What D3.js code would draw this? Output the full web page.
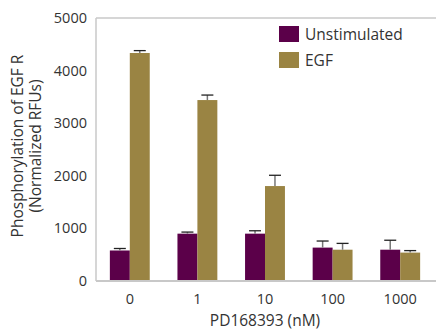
<!DOCTYPE html>
<html>
<head>
<meta charset="utf-8">
<script src="https://cdn.jsdelivr.net/npm/d3@7"></script>
<style>
  body { margin: 0; background: #fff; }
  text { font-family: "Open Sans", "Noto Sans", sans-serif; fill: #333; }
</style>
</head>
<body>
<div id="chart"></div>
<script>
const categories = ['0', '1', '10', '100', '1000'];
const seriesNames = ['Unstimulated', 'EGF'];
const unstimulated = [580, 900, 900, 635, 595];
const unstimulatedErr = [38, 30, 55, 125, 180];
const egf = [4335, 3440, 1805, 595, 540];
const egfErr = [45, 95, 205, 120, 38];
const yTicks = [0, 1000, 2000, 3000, 4000, 5000];
const colors = ['#5b0049', '#9a8443'];

const width = 436, height = 331;
const margin = { top: 18, right: 2, bottom: 50, left: 96 };
const innerW = width - margin.left - margin.right;
const innerH = height - margin.top - margin.bottom;

const svg = d3.select('#chart').append('svg')
    .attr('width', width)
    .attr('height', height);

const g = svg.append('g').attr('transform', `translate(${margin.left},${margin.top})`);

const x = d3.scaleBand().domain(categories).range([0, innerW]).paddingInner(0.41).paddingOuter(0.205);
const xSub = d3.scaleBand().domain(seriesNames).range([0, x.bandwidth()]);
const y = d3.scaleLinear().domain([0, 5000]).range([innerH, 0]);

// frame: top line, left axis, baseline
g.append('line').attr('x1', 0).attr('x2', width - margin.left).attr('y1', 0).attr('y2', 0)
    .attr('stroke', '#c8c8c8').attr('stroke-width', 1.5);
g.append('line').attr('x1', 0).attr('x2', 0).attr('y1', 0).attr('y2', innerH)
    .attr('stroke', '#c8c8c8').attr('stroke-width', 1.5);

const rows = categories.map((c, i) => [
    { cat: c, s: seriesNames[0], v: unstimulated[i], e: unstimulatedErr[i], color: colors[0] },
    { cat: c, s: seriesNames[1], v: egf[i], e: egfErr[i], color: colors[1] },
]).flat();

g.append('g').selectAll('rect')
    .data(rows)
    .enter()
    .append('rect')
    .attr('x', d => x(d.cat) + xSub(d.s))
    .attr('width', xSub.bandwidth())
    .attr('y', d => y(d.v))
    .attr('height', d => innerH - y(d.v))
    .attr('fill', d => d.color);

const err = g.append('g').selectAll('g')
    .data(rows)
    .enter()
    .append('g')
    .attr('transform', d => `translate(${x(d.cat) + xSub(d.s) + xSub.bandwidth() / 2},0)`);

err.append('line')
    .attr('y1', d => y(d.v)).attr('y2', d => y(d.v + d.e))
    .attr('stroke', '#777').attr('stroke-width', 1.5);
err.append('line')
    .attr('x1', -6).attr('x2', 6)
    .attr('y1', d => y(d.v + d.e)).attr('y2', d => y(d.v + d.e))
    .attr('stroke', '#222').attr('stroke-width', 1.3);

g.append('line').attr('x1', 0).attr('x2', width - margin.left).attr('y1', innerH).attr('y2', innerH)
    .attr('stroke', '#c8c8c8').attr('stroke-width', 2);

// y ticks
g.append('g').selectAll('text')
    .data(yTicks)
    .enter()
    .append('text')
    .attr('x', -9)
    .attr('y', d => y(d))
    .attr('dy', '0.35em')
    .attr('text-anchor', 'end')
    .style('font-size', '14.5px')
    .text(d => d);

// x ticks
g.append('g').selectAll('text')
    .data(categories)
    .enter()
    .append('text')
    .attr('x', d => x(d) + x.bandwidth() / 2)
    .attr('y', innerH + 23)
    .attr('text-anchor', 'middle')
    .style('font-size', '14.5px')
    .text(d => d);

svg.append('text')
    .attr('x', margin.left + innerW / 2)
    .attr('y', 326)
    .attr('text-anchor', 'middle')
    .style('font-size', '15.5px')
    .text('PD168393 (nM)');

const yTitle = svg.append('text')
    .attr('transform', 'translate(0,146) rotate(-90)')
    .attr('text-anchor', 'middle')
    .style('font-size', '15.5px');
yTitle.append('tspan').attr('x', 0).attr('y', 23).text('Phosphorylation of EGF R');
yTitle.append('tspan').attr('x', 0).attr('y', 41).text('(Normalized RFUs)');

// legend
const legend = svg.append('g').attr('transform', 'translate(279,26)');
const li = legend.selectAll('g')
    .data(seriesNames)
    .enter()
    .append('g')
    .attr('transform', (d, i) => `translate(0,${i * 26})`);
li.append('rect').attr('width', 20).attr('height', 16).attr('fill', (d, i) => colors[i]);
li.append('text').attr('x', 26).attr('y', 8).attr('dy', '0.38em')
    .style('font-size', '15.5px').text(d => d);
</script>
</body>
</html>
